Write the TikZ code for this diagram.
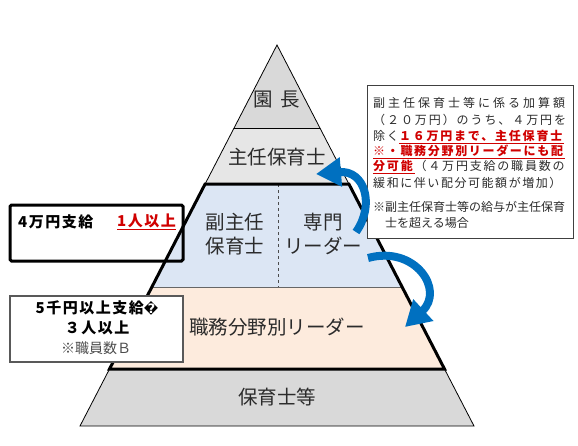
\documentclass[tikz,border=0pt]{standalone}
\usepackage{fontspec}
\setmainfont{Noto Sans CJK JP}
\newfontfamily\djv{DejaVu Sans}
\usetikzlibrary{arrows.meta}
\definecolor{grayA}{HTML}{D9D9D9}
\definecolor{grayB}{HTML}{E6E6E6}
\definecolor{blueL}{HTML}{DCE6F4}
\definecolor{peach}{HTML}{FDEBDD}
\definecolor{myred}{HTML}{D00000}
\definecolor{arrowblue}{HTML}{0070C0}
\definecolor{txt}{HTML}{2B2B2B}
\tikzset{
  layer/.style={draw=black, line width=0.8pt},
  plabel/.style={font=\fontsize{19.5}{24}\selectfont, text=txt, inner sep=0pt, align=center},
  rline/.style={anchor=west, inner sep=0pt, font=\fontsize{12}{14}\selectfont, text=txt},
  bluearrow/.style={draw=arrowblue, line width=8pt, -{Triangle[length=25pt,width=28pt]}},
}
\newcommand{\ru}[1]{\textcolor{myred}{\underline{\textbf{#1}}}}
\begin{document}
\begin{tikzpicture}[x=1pt,y=-1pt]
\useasboundingbox (0,0) rectangle (578,445);
% pyramid layers
\fill[grayA] (277,45) -- (234.1,128) -- (319.9,128) -- cycle;
\fill[grayB] (234.1,128) -- (319.9,128) -- (348.9,184) -- (205.1,184) -- cycle;
\fill[blueL] (205.1,184) -- (348.9,184) -- (402.1,287) -- (151.9,287) -- cycle;
\fill[peach] (151.9,287) -- (402.1,287) -- (444.5,369) -- (109.5,369) -- cycle;
\fill[grayA] (109.5,369) -- (444.5,369) -- (474,426) -- (80,426) -- cycle;
\draw[layer] (205.1,184) -- (277,45) -- (348.9,184);
\draw[layer] (234.1,128) -- (319.9,128);
\draw[layer] (109.5,369) -- (80,426) -- (474,426) -- (444.5,369);
\draw[black!60, line width=0.4pt] (151.9,287) -- (402.1,287);
\draw[black!70, dashed, line width=0.8pt] (278,184) -- (278,287);
\draw[black, line width=3pt, line join=miter] (205.1,184) -- (348.9,184) -- (444.5,369) -- (109.5,369) -- cycle;
% pyramid labels
\node[plabel] (encho) at (277,100) {園\hspace{8pt}長};
\node[plabel] (shunin) at (277,157) {主任保育士};
\node[plabel] (fuku) at (235,234) {副主任\\保育士};
\node[plabel] (senmon) at (323,234) {専門\\リーダー};
\node[plabel] (shokumu) at (277,327) {職務分野別リーダー};
\node[plabel] (hoikushi) at (277,397) {保育士等};
% left box 1
\node[draw=black, line width=3pt, rounded corners=1.5pt, minimum width=173pt, minimum height=56pt, inner sep=0pt] (box1) at (96.5,233) {};
\node[anchor=west, inner sep=0pt, font=\fontsize{15}{18}\selectfont\bfseries\addfontfeatures{LetterSpace=10}] (b1a) at (18,222) {4万円支給};
\node[anchor=west, inner sep=0pt, font=\fontsize{15}{18}\selectfont\bfseries\addfontfeatures{LetterSpace=10}] (b1b) at (117,222) {\textcolor{myred}{\underline{1人以上}}};
% left box 2
\node[draw=black!65, fill=white, line width=1.3pt, minimum width=173pt, minimum height=66pt, inner sep=0pt] (box2) at (96.5,329) {};
\node[inner sep=0pt, font=\fontsize{15}{18}\selectfont\bfseries\addfontfeatures{LetterSpace=10}] (b2a) at (97,308) {5千円以上支給{\djv\fontsize{13}{15}\selectfont\bfseries �}};
\node[inner sep=0pt, font=\fontsize{15}{18}\selectfont\bfseries\addfontfeatures{LetterSpace=10}] (b2b) at (97,328) {３人以上};
\node[inner sep=0pt, font=\fontsize{14}{16}\selectfont, text=black!70] (b2c) at (96,348) {※職員数Ｂ};
% right box
\node[draw=black!75, fill=white, line width=0.8pt, minimum width=206pt, minimum height=153pt, inner sep=0pt] (rbox) at (470,161.5) {};
\node[rline, font=\fontsize{12}{14}\selectfont\addfontfeatures{LetterSpace=25}] (r1) at (373,103) {副主任保育士等に係る加算額};
\node[rline, font=\fontsize{12}{14}\selectfont\addfontfeatures{LetterSpace=16}] (r2) at (373,120) {（２０万円）のうち、４万円を};
\node[rline, font=\fontsize{12}{14}\selectfont\addfontfeatures{LetterSpace=15}] (r3) at (373,137) {除く\ru{１６万円まで、主任保育士}};
\node[rline, font=\fontsize{12}{14}\selectfont\addfontfeatures{LetterSpace=14}] (r4) at (373,152) {\ru{※・職務分野別リーダーにも配}};
\node[rline, font=\fontsize{12}{14}\selectfont\addfontfeatures{LetterSpace=15}] (r5) at (373,167) {\ru{分可能}（４万円支給の職員数の};
\node[rline, font=\fontsize{12}{14}\selectfont\addfontfeatures{LetterSpace=13}] (r6) at (373,183) {緩和に伴い配分可能額が増加）};
\node[rline] (r7) at (373,207) {※副主任保育士等の給与が主任保育};
\node[rline] (r8) at (385,223) {士を超える場合};
% arrows
\coordinate (a1s) at (356,232);
\coordinate (a1e) at (316,174);
\coordinate (a2s) at (368,258);
\coordinate (a2e) at (405,327);
\draw[bluearrow] (a1s) .. controls (375,205) and (365,170) .. (a1e);
\draw[bluearrow] (a2s) .. controls (415,245) and (445,290) .. (a2e);
\end{tikzpicture}
\end{document}
